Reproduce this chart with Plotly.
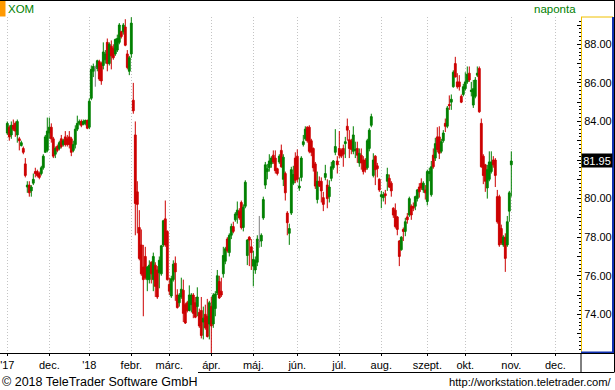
import pandas as pd
import plotly.graph_objects as go

# ---- daily OHLC (open, high, low, close) ----
nov17 = [
    (83.4, 84.0, 83.3, 83.9), (83.7, 83.8, 83.0, 83.2), (83.3, 84.0, 83.1, 83.8),
    (83.8, 84.1, 83.5, 83.6), (83.9, 84.0, 83.2, 83.5), (83.3, 84.1, 82.9, 84.0),
    (83.1, 83.2, 82.5, 83.0), (82.75, 83.0, 82.7, 82.9), (82.6, 82.7, 82.3, 82.4),
    (81.8, 82.1, 81.1, 81.2), (80.6, 80.9, 80.3, 80.7), (80.7, 80.9, 80.1, 80.3),
    (80.4, 80.7, 80.1, 80.6), (80.8, 81.3, 80.7, 81.0), (81.4, 81.6, 81.1, 81.3),
    (81.4, 81.5, 81.1, 81.2), (81.3, 81.4, 81.0, 81.1), (81.3, 81.7, 81.2, 81.6),
    (81.6, 82.3, 81.5, 82.2), (82.4, 83.3, 82.4, 83.2), (82.5, 84.2, 82.4, 83.5),
]
dec17 = [
    (83.4, 84.2, 83.1, 83.7), (83.7, 83.9, 82.9, 83.1), (83.1, 83.2, 82.1, 82.2),
    (82.3, 82.7, 82.1, 82.6), (82.7, 82.8, 82.4, 82.5), (82.6, 83.0, 82.5, 82.9),
    (83.1, 83.3, 82.6, 82.7), (82.8, 83.1, 82.7, 83.0), (83.2, 83.5, 82.7, 82.8),
    (83.1, 83.3, 82.7, 82.8), (83.2, 83.5, 82.6, 82.8), (83.1, 83.2, 82.2, 82.4),
    (82.5, 83.0, 82.4, 82.8), (82.8, 83.8, 82.6, 83.6), (83.6, 84.3, 83.5, 83.9),
    (83.9, 84.1, 83.8, 84.0), (84.0, 84.1, 83.7, 83.8), (83.85, 84.1, 83.8, 84.0),
    (83.9, 84.1, 83.8, 84.05), (84.05, 84.1, 83.6, 83.65),
]
jan18 = [
    (83.7, 85.2, 83.6, 85.05), (85.2, 86.9, 85.1, 86.7), (86.6, 87.0, 86.3, 86.85),
    (86.8, 86.9, 85.8, 86.8), (86.75, 87.2, 86.6, 87.15), (87.1, 87.2, 86.1, 86.2),
    (87.0, 87.1, 85.9, 86.1), (86.9, 88.1, 86.7, 87.6), (87.2, 87.7, 87.0, 87.5),
    (88.1, 88.3, 86.6, 87.0), (87.0, 88.1, 86.9, 88.0), (87.9, 88.2, 86.7, 87.4),
    (87.8, 88.0, 87.2, 87.3), (87.5, 88.3, 87.4, 88.25), (87.7, 88.5, 87.6, 88.3),
    (88.1, 89.1, 88.0, 89.0), (88.65, 88.7, 88.3, 88.4), (88.65, 89.1, 88.5, 89.0),
    (88.9, 89.3, 87.9, 87.95), (87.5, 87.7, 86.7, 86.8), (86.6, 87.4, 86.4, 87.3),
]
feb18 = [
    (87.5, 89.4, 87.3, 89.1), (85.1, 86.0, 84.4, 84.55), (83.3, 84.0, 78.1, 79.75),
    (80.35, 80.9, 78.2, 79.7), (78.5, 79.4, 76.8, 76.9), (77.6, 78.4, 76.0, 76.1),
    (76.45, 77.6, 73.9, 75.8), (77.0, 77.5, 75.8, 75.9), (75.8, 76.5, 75.2, 76.45),
    (75.8, 76.8, 75.6, 76.55), (76.7, 76.75, 75.6, 76.1), (75.8, 77.2, 75.2, 77.0),
    (76.55, 76.7, 74.9, 75.45), (76.3, 76.5, 74.8, 74.9), (76.15, 77.0, 75.35, 76.8),
    (76.1, 77.6, 76.0, 77.55), (77.6, 78.9, 77.5, 78.85), (78.95, 79.9, 77.5, 77.6),
    (78.3, 78.35, 75.75, 75.8),
]
mar18 = [
    (75.55, 75.9, 75.0, 75.2), (74.95, 76.0, 74.85, 75.85), (75.8, 76.8, 75.7, 76.6),
    (76.65, 77.0, 74.7, 76.2), (75.0, 75.3, 74.3, 74.35), (74.6, 75.1, 74.4, 75.0),
    (74.9, 75.9, 74.8, 75.3), (75.25, 75.8, 73.6, 74.05), (74.5, 74.6, 73.5, 73.55),
    (74.6, 74.7, 74.1, 74.2), (74.2, 75.5, 74.15, 75.0), (74.5, 75.1, 74.1, 75.0),
    (75.0, 75.1, 73.8, 74.05), (74.6, 74.9, 73.8, 73.85), (74.4, 75.4, 73.9, 74.9),
    (74.1, 74.3, 73.3, 73.4), (74.2, 74.9, 72.75, 72.9), (73.6, 74.4, 72.7, 73.8),
    (74.0, 74.5, 73.2, 73.3), (73.9, 74.8, 72.8, 72.85), (73.5, 74.7, 72.7, 74.6),
]
apr18 = [
    (74.4, 74.9, 71.9, 73.4), (73.5, 75.1, 73.3, 75.0), (74.3, 75.2, 73.9, 75.05),
    (75.1, 76.3, 75.0, 76.0), (75.7, 76.0, 74.8, 74.85), (75.2, 75.9, 74.9, 75.0),
    (76.1, 77.5, 75.9, 77.05), (76.75, 77.5, 76.6, 77.4), (77.9, 78.0, 77.2, 77.3),
    (77.2, 78.2, 77.0, 78.1), (78.1, 78.7, 77.9, 78.55), (78.55, 78.8, 78.2, 78.3),
    (78.9, 79.3, 78.8, 79.2), (79.15, 79.85, 78.7, 79.4), (79.35, 79.5, 78.9, 79.0),
    (79.8, 79.9, 78.4, 78.5), (78.5, 79.7, 78.3, 79.55), (79.6, 80.95, 79.5, 80.85),
    (77.05, 77.9, 76.55, 77.85), (78.0, 78.05, 76.5, 77.85), (77.5, 77.9, 76.3, 77.2),
]
may18 = [
    (76.5, 77.3, 75.45, 76.85), (76.3, 77.0, 76.1, 76.8), (76.7, 78.1, 76.5, 77.9),
    (77.78, 79.1, 77.45, 77.78), (77.8, 78.2, 77.5, 78.1), (79.0, 80.1, 78.9, 79.95),
    (80.7, 81.9, 80.5, 81.75), (81.4, 81.8, 81.0, 81.55), (81.6, 82.3, 81.4, 81.95),
    (81.8, 82.2, 81.6, 82.1), (82.25, 82.5, 81.8, 81.9), (82.1, 82.5, 81.3, 81.45),
    (81.55, 81.6, 81.2, 81.3), (81.9, 82.3, 81.8, 82.2), (82.5, 82.8, 81.6, 81.65),
    (81.0, 82.3, 80.65, 82.15), (81.3, 81.4, 79.9, 80.3), (79.25, 79.35, 78.1, 78.75),
    (78.2, 78.7, 77.6, 78.45), (79.25, 81.65, 79.15, 81.5), (80.8, 81.7, 80.7, 81.25),
    (82.1, 82.4, 80.8, 80.95),
]
jun18 = [
    (82.2, 82.55, 80.85, 81.0), (80.55, 81.1, 80.4, 80.65), (81.1, 82.2, 80.9, 82.1),
    (82.8, 83.3, 82.7, 82.95), (83.1, 83.75, 83.0, 83.6), (83.7, 83.75, 82.9, 83.0),
    (83.7, 83.8, 82.35, 82.45), (83.0, 83.1, 82.2, 82.4), (82.6, 82.65, 81.4, 81.6),
    (81.8, 81.9, 80.5, 80.65), (79.95, 81.4, 79.75, 80.9), (80.9, 81.15, 80.6, 80.65),
    (80.9, 81.1, 79.8, 80.4), (80.05, 80.35, 79.35, 79.7), (81.1, 81.75, 80.95, 81.3),
    (80.7, 81.0, 79.5, 80.0), (80.1, 80.95, 79.8, 80.6), (81.05, 81.9, 80.9, 81.65),
    (81.6, 82.0, 81.5, 81.95), (82.4, 83.6, 82.25, 82.7), (81.95, 82.2, 81.3, 81.75),
]
jul18 = [
    (82.6, 83.5, 82.1, 82.25), (82.5, 82.6, 82.1, 82.2), (82.6, 82.8, 81.65, 82.3),
    (82.85, 83.2, 82.1, 82.95), (83.75, 84.15, 83.0, 83.55), (83.05, 83.55, 82.1, 82.6),
    (83.0, 83.1, 82.3, 82.55), (82.45, 83.75, 82.3, 83.3), (82.5, 82.95, 82.1, 82.55),
    (82.6, 82.95, 81.85, 82.25), (81.85, 82.6, 81.65, 82.35), (82.25, 82.6, 81.5, 81.85),
    (82.0, 82.2, 81.25, 81.4), (82.0, 82.1, 81.35, 81.5), (81.6, 83.1, 81.5, 83.0),
    (82.6, 83.65, 82.45, 83.55), (83.8, 84.4, 83.7, 84.25), (81.2, 82.35, 81.1, 82.0),
    (82.2, 82.25, 80.7, 81.5), (81.7, 81.85, 81.1, 81.55), (81.0, 81.05, 80.35, 80.45),
]
aug18 = [
    (80.1, 80.4, 79.5, 80.2), (80.05, 80.35, 79.85, 80.2), (80.25, 80.45, 79.7, 80.15),
    (80.9, 81.6, 80.4, 81.25), (81.05, 81.25, 80.55, 80.6), (80.8, 80.9, 80.1, 80.4),
    (79.5, 79.55, 79.0, 79.15), (79.4, 79.75, 78.45, 78.55), (79.05, 79.1, 78.1, 78.4),
    (77.8, 77.85, 76.5, 77.0), (77.35, 78.05, 77.3, 78.0), (78.4, 78.5, 77.8, 78.3),
    (78.3, 79.0, 78.05, 78.8), (79.05, 79.25, 78.7, 78.9), (79.15, 80.1, 79.05, 80.0),
    (79.6, 79.7, 78.9, 79.15), (79.6, 79.8, 79.35, 79.5), (79.6, 80.15, 79.4, 80.1),
    (80.0, 80.5, 79.85, 80.45), (80.6, 80.8, 80.05, 80.35), (80.8, 81.05, 80.45, 80.55),
    (80.45, 80.9, 80.3, 80.8), (80.45, 80.7, 79.95, 80.3),
]
sep18 = [
    (79.85, 81.5, 79.65, 81.4), (81.3, 81.6, 80.9, 81.4), (80.2, 81.95, 80.1, 81.65),
    (82.25, 82.6, 81.55, 81.65), (82.1, 83.15, 81.95, 82.85), (83.2, 83.7, 82.4, 82.55),
    (83.2, 83.75, 82.05, 82.35), (82.45, 83.1, 82.35, 82.95), (83.0, 83.55, 82.9, 83.4),
    (83.9, 84.15, 83.45, 83.75), (83.75, 84.8, 83.65, 84.7), (84.88, 85.35, 84.6, 84.82),
    (85.0, 85.4, 84.6, 85.15), (85.8, 86.65, 85.75, 86.55), (87.0, 87.35, 86.3, 86.3),
    (86.05, 86.5, 85.7, 85.8), (86.05, 86.4, 85.6, 85.8), (85.3, 85.4, 84.95, 85.0),
    (85.4, 85.95, 85.3, 85.8),
]
oct18 = [
    (85.7, 86.55, 85.6, 86.05), (86.05, 86.85, 85.95, 86.45), (86.5, 86.85, 86.05, 86.15),
    (85.55, 86.05, 85.3, 85.62), (84.85, 86.15, 84.7, 85.7), (85.3, 86.3, 85.2, 86.15),
    (86.4, 86.85, 86.3, 86.5), (86.75, 86.85, 84.45, 84.5), (83.9, 84.15, 81.6, 81.65),
    (82.2, 82.3, 80.75, 81.2), (81.75, 81.8, 80.35, 80.9), (80.55, 81.75, 80.0, 81.5),
    (81.0, 82.45, 80.9, 81.9), (81.4, 82.45, 81.3, 81.9), (82.0, 82.2, 81.6, 81.75),
    (82.0, 82.1, 80.6, 81.2), (80.1, 80.45, 78.7, 78.8), (80.1, 80.2, 77.5, 77.6),
    (78.45, 78.65, 77.6, 77.7), (77.6, 78.1, 77.5, 78.0), (78.0, 78.2, 76.2, 76.9),
    (77.6, 79.1, 77.5, 78.8), (79.35, 80.4, 78.8, 80.3),
]
nov18 = [
    (81.75, 82.45, 80.1, 81.95),
]

holidays = ["2017-11-23", "2017-12-25", "2018-01-01", "2018-01-15", "2018-02-19",
            "2018-03-30", "2018-05-28", "2018-07-04", "2018-09-03"]
month_ticks = ["2017-11-01", "2017-12-01", "2018-01-02", "2018-02-01", "2018-03-01",
               "2018-04-02", "2018-05-01", "2018-06-01", "2018-07-02", "2018-08-01",
               "2018-09-04", "2018-10-01", "2018-11-01", "2018-12-03"]
month_labels = ["'17", "dec.", "'18", "febr.", "márc.", "ápr.", "máj.", "jún.",
                "júl.", "aug.", "szept.", "okt.", "nov.", "dec."]
price_ticks = [74, 76, 78, 80, 82, 84, 86, 88]
x_range = ["2017-10-26 08:24", "2018-12-19 20:24"]
y_range = [71.995, 89.415]

rows = nov17 + dec17 + jan18 + feb18 + mar18 + apr18 + may18 + jun18 + jul18 + aug18 + sep18 + oct18 + nov18
dates = pd.bdate_range("2017-11-01", "2018-11-01", freq="C", holidays=holidays)
assert len(rows) == len(dates), (len(rows), len(dates))
df = pd.DataFrame(rows, columns=["open", "high", "low", "close"], index=dates)
moving = df[df["open"] != df["close"]]
flat = df[df["open"] == df["close"]]

GREEN = "#008000"
RED = "#cc0000"
GRAY = "#808080"
FONT = "Liberation Sans, Arial, sans-serif"

fig = go.Figure()
fig.add_trace(go.Candlestick(
    x=moving.index, open=moving["open"], high=moving["high"], low=moving["low"], close=moving["close"],
    increasing=dict(line=dict(color=GREEN, width=1), fillcolor=GREEN),
    decreasing=dict(line=dict(color=RED, width=1), fillcolor=RED),
    whiskerwidth=0, showlegend=False, hoverinfo="skip"))
fig.add_trace(go.Candlestick(
    x=flat.index, open=flat["open"], high=flat["high"], low=flat["low"], close=flat["close"],
    increasing=dict(line=dict(color=GRAY, width=1), fillcolor=GRAY),
    decreasing=dict(line=dict(color=GRAY, width=1), fillcolor=GRAY),
    whiskerwidth=0, showlegend=False, hoverinfo="skip"))

W, H = 615, 390
L, R, T, B = 0, 34, 17, 37
PW, PH = W - L - R, H - T - B


def px(x):
    return (x - L) / PW


def py(y):
    return (H - B - y) / PH


grid = "#c4c4c4"
fig.update_layout(
    width=W, height=H, margin=dict(l=L, r=R, t=T, b=B, pad=0, autoexpand=False),
    paper_bgcolor="white", plot_bgcolor="white",
    boxgap=0.1, boxgroupgap=0,
    font=dict(family=FONT, size=11, color="black"),
    xaxis=dict(
        type="date", range=x_range,
        rangebreaks=[dict(bounds=["sat", "mon"]), dict(values=holidays)],
        rangeslider=dict(visible=False),
        tickvals=month_ticks, ticktext=month_labels, tickangle=0,
        ticks="outside", ticklen=2, tickcolor="black",
        showgrid=True, gridcolor=grid, griddash="1px,2px", gridwidth=1,
        showline=True, linecolor="black", linewidth=1,
        zeroline=False, fixedrange=True, automargin=False,
        tickfont=dict(size=11, color="black", family=FONT),
    ),
    yaxis=dict(
        side="right", range=y_range,
        tickvals=list(range(72, 90)),
        ticktext=[(f"{v}.00" if v in price_ticks else "") for v in range(72, 90)],
        ticks="inside", ticklen=4, tickcolor="black", tickwidth=1,
        minor=dict(dtick=0.2, tick0=72, ticks="inside", ticklen=2, tickcolor="black", showgrid=False),
        showgrid=False, showline=True, linecolor="#f0c000", linewidth=1,
        zeroline=False, fixedrange=True, automargin=False,
        tickfont=dict(size=11, color="black", family=FONT),
    ),
    yaxis2=dict(
        overlaying="y", side="left", range=y_range,
        tickvals=list(range(72, 90, 2)), showticklabels=False,
        ticks="inside", ticklen=5, tickcolor="black",
        minor=dict(dtick=1 / 3, tick0=72, ticks="inside", ticklen=3, tickcolor="black", showgrid=False),
        showgrid=True, gridcolor=grid, griddash="1px,2px", gridwidth=1,
        showline=False, zeroline=False, fixedrange=True, automargin=False,
    ),
    yaxis3=dict(
        overlaying="y", side="left", range=y_range,
        tickvals=list(range(73, 90, 2)), showticklabels=False, ticks="",
        showgrid=True, gridcolor="#d0d0d0", griddash="4px,11px", gridwidth=1,
        showline=False, zeroline=False, fixedrange=True, automargin=False,
    ),
)

shapes = []


def hline(y, x0, x1, color="black", width=1):
    shapes.append(dict(type="line", xref="paper", yref="paper", x0=px(x0), x1=px(x1),
                       y0=py(y), y1=py(y), line=dict(color=color, width=width), layer="above"))


def vline(x, y0, y1, color="black", width=1):
    shapes.append(dict(type="line", xref="paper", yref="paper", x0=px(x), x1=px(x),
                       y0=py(y0), y1=py(y1), line=dict(color=color, width=width), layer="above"))


shapes.append(dict(type="rect", xref="paper", yref="paper", x0=px(0), x1=px(5.5), y0=py(16.5), y1=py(0),
                   fillcolor="#ff9900", line=dict(width=0), layer="above"))
hline(0.5, 0, 615)
vline(614.5, 0, 372.5)
hline(17, 581, 613, color="#f0c000")
vline(613, 17, 353, color="#1030b0", width=2)
hline(352.5, 581, 614, color="#1030b0", width=2)
hline(353.5, 581, 614)
hline(372.5, 198, 614)
vline(581, 353, 372.5)
fig.update_layout(shapes=shapes)

last_close = df["close"].iloc[-1]
annotations = [
    dict(text="XOM", xref="paper", yref="paper", x=px(6), y=py(9), xanchor="left", yanchor="middle",
         showarrow=False, font=dict(size=11.5, color=GREEN, family=FONT)),
    dict(text="naponta", xref="paper", yref="paper", x=px(578), y=py(9), xanchor="right", yanchor="middle",
         showarrow=False, font=dict(size=11.5, color=GREEN, family=FONT)),
    dict(text=f"{last_close:.2f}", xref="paper", yref="y", x=px(581), y=last_close,
         xanchor="left", yanchor="middle", showarrow=False, bgcolor="black", width=30, height=13,
         borderpad=0, align="center", font=dict(size=11, color="white", family=FONT)),
    dict(text="© 2018 TeleTrader Software GmbH", xref="paper", yref="paper", x=px(0), y=py(381.5),
         xanchor="left", yanchor="middle", showarrow=False, font=dict(size=12.5, color="black", family=FONT)),
    dict(text="http://workstation.teletrader.com/", xref="paper", yref="paper", x=px(614), y=py(381.5),
         xanchor="right", yanchor="middle", showarrow=False, font=dict(size=11.2, color="black", family=FONT)),
]
fig.update_layout(annotations=annotations)

fig.write_html("out.html", config={"displayModeBar": False},
               post_script="document.body.style.margin='0';document.body.style.padding='0';")
